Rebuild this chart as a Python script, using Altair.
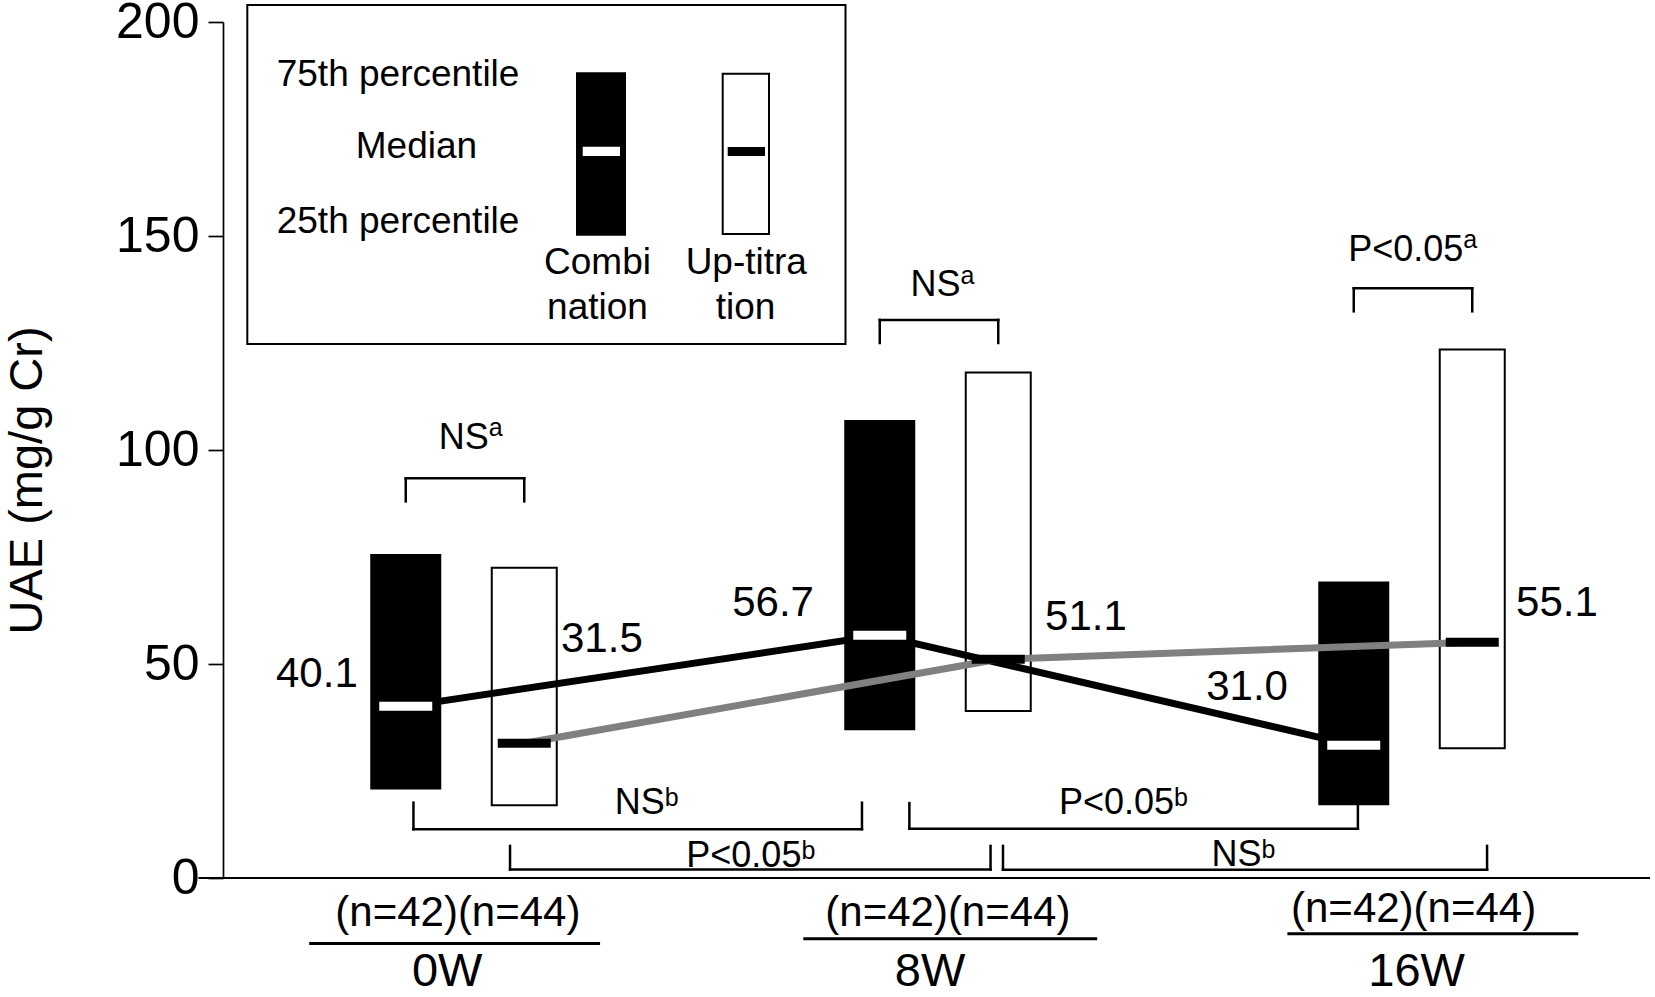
import altair as alt
import pandas as pd

# ---------------- data ----------------
week_num = [0, 8, 16]
week_names = ["0W", "8W", "16W"]
group_names = ["Combination", "Up-titration"]

comb_q1 = [20.7, 34.5, 17.0]
comb_median = [40.1, 56.7, 31.0]
comb_q3 = [75.7, 107.0, 69.3]

up_q1 = [17.0, 39.0, 30.3]
up_median = [31.5, 51.1, 55.1]
up_q3 = [72.5, 118.1, 123.5]

n_text = ["(n=42)(n=44)", "(n=42)(n=44)", "(n=42)(n=44)"]

# annotation placement (data units: weeks on x, UAE on y)
comb_label_x = [-2.50, 5.20, 13.20]
comb_label_y = [48.1, 64.8, 45.1]
up_label_x = [2.31, 10.48, 18.43]
up_label_y = [56.2, 61.5, 64.8]

within_text = ["NS", "NS", "P<0.05"]
within_sup = "a"
within_bar_y = [93.4, 130.4, 137.8]
within_label_x = [0.10, 8.06, 16.0]
within_label_y = [103.3, 138.9, 147.2]

between_text = ["NS", "P<0.05", "P<0.05", "NS"]
between_sup = "b"
between_from = [-0.87, 0.76, 7.50, 9.08]
between_to = [6.70, 8.87, 15.07, 17.25]
between_bar_y = [11.4, 2.0, 11.5, 1.95]
between_leg_y = [17.6, 7.5, 17.5, 7.5]
between_label_x = [3.07, 4.83, 11.12, 13.14]
between_label_y = [18.0, 5.7, 18.0, 5.8]

n_label_x = [-0.12, 8.15, 16.01]
n_label_y = [-7.8, -7.8, -6.7]
underline_from = [-2.63, 5.71, 13.88]
underline_to = [2.28, 10.67, 18.79]
underline_y = [-15.3, -14.2, -13.0]
week_label_x = [-0.30, 7.85, 16.06]
week_label_y = [-21.6, -21.6, -21.6]

# ---------------- layout constants ----------------
FONT = "Liberation Sans, Arial, DejaVu Sans"
PLOT_W, PLOT_H = 1432, 856
X_DOMAIN = [-4, 20]
PX_PER_WEEK = PLOT_W / (X_DOMAIN[1] - X_DOMAIN[0])
SIG_FS, SUP_FS = 36, 25
ARIAL_W = {"N": .722, "S": .667, "P": .667, "<": .584, "0": .556, ".": .278,
           "5": .556, "a": .556, "b": .556}


def text_w(s, fs):
    return sum(ARIAL_W[c] for c in s) * fs


shift = {"Combination": -1.0, "Up-titration": 1.0}

# ---------------- tables ----------------
rows = []
for g, q1s, meds, q3s, lx, ly in [
    ("Combination", comb_q1, comb_median, comb_q3, comb_label_x, comb_label_y),
    ("Up-titration", up_q1, up_median, up_q3, up_label_x, up_label_y),
]:
    for i in range(3):
        rows.append(dict(week=week_names[i], group=g, xpos=week_num[i] + shift[g],
                         q1=q1s[i], median=meds[i], q3=q3s[i],
                         label=f"{meds[i]:.1f}", label_x=lx[i], label_y=ly[i]))
df = pd.DataFrame(rows)

seg_rows = []
leg = 5.4
for i in range(3):
    x0 = week_num[i] + shift["Combination"]
    x1 = week_num[i] + shift["Up-titration"]
    yb = within_bar_y[i]
    seg_rows += [dict(x=x0, x2=x1, y=yb, y2=yb),
                 dict(x=x0, x2=x0, y=yb, y2=yb - leg),
                 dict(x=x1, x2=x1, y=yb, y2=yb - leg)]
for i in range(4):
    a, b, yb, yl = between_from[i], between_to[i], between_bar_y[i], between_leg_y[i]
    seg_rows += [dict(x=a, x2=b, y=yb, y2=yb),
                 dict(x=a, x2=a, y=yb, y2=yl),
                 dict(x=b, x2=b, y=yb, y2=yl)]
segs = pd.DataFrame(seg_rows)


def sig_table(texts, sup, xs_, ys_):
    out = []
    for t, x, y in zip(texts, xs_, ys_):
        join = x + (text_w(t, SIG_FS) - text_w(sup, SUP_FS)) / 2 / PX_PER_WEEK
        out.append(dict(t=t, s=sup, x=join, y=y))
    return pd.DataFrame(out)


sig_a = sig_table(within_text, within_sup, within_label_x, within_label_y)
sig_b = sig_table(between_text, between_sup, between_label_x, between_label_y)

n_df = pd.DataFrame(dict(t=n_text, x=n_label_x, y=n_label_y))
wk_df = pd.DataFrame(dict(t=week_names, x=week_label_x, y=week_label_y))
ul_df = pd.DataFrame(dict(x=underline_from, x2=underline_to, y=underline_y))
axis_df = pd.DataFrame(dict(x=[-4.5], x2=[20.0], y=[0.0]))

# ---------------- scales / helpers ----------------
xs = alt.Scale(domain=X_DOMAIN, nice=False, zero=False)
ys = alt.Scale(domain=[0, 200], nice=False, zero=False)
yaxis = alt.Axis(values=[0, 50, 100, 150, 200], title="UAE (mg/g Cr)", grid=False,
                 labelFont=FONT, labelFontSize=50, labelColor="black", labelPadding=9,
                 tickSize=15, tickWidth=1.7, tickColor="black",
                 domainColor="black", domainWidth=1.7,
                 titleFont=FONT, titleFontSize=47, titleFontWeight="normal", titleColor="black",
                 titleAngle=270, titleX=-196, titleY=458, titleAlign="center",
                 titleBaseline="middle")


def X(f):
    return alt.X(f, type="quantitative", scale=xs, axis=None)


def Y(f):
    return alt.Y(f, type="quantitative", scale=ys, axis=yaxis)


comb = alt.datum.group == "Combination"
upt = alt.datum.group == "Up-titration"

bars_c = alt.Chart(df).transform_filter(comb).mark_bar(size=71, color="black").encode(
    x=X("xpos"), y=Y("q3"), y2="q1")
bars_u = alt.Chart(df).transform_filter(upt).mark_bar(
    size=65, fill="white", stroke="black", strokeWidth=2).encode(
    x=X("xpos"), y=Y("q3"), y2="q1")

lines = alt.Chart(df).mark_line(strokeWidth=7).encode(
    x=X("xpos"), y=Y("median"),
    color=alt.Color("group:N", scale=alt.Scale(domain=group_names, range=["black", "#808080"]),
                    legend=None))

ticks_c = alt.Chart(df).transform_filter(comb).mark_tick(
    orient="horizontal", size=53, thickness=9, color="white", opacity=1).encode(
    x=X("xpos"), y=Y("median"))
ticks_u = alt.Chart(df).transform_filter(upt).mark_tick(
    orient="horizontal", size=53, thickness=9, color="black", opacity=1).encode(
    x=X("xpos"), y=Y("median"))

val_text = alt.Chart(df).mark_text(font=FONT, fontSize=42, color="black", baseline="middle",
                                   dy=2).encode(
    x=X("label_x"), y=Y("label_y"), text="label:N")

brackets = alt.Chart(segs).mark_rule(color="black", strokeWidth=2.5, strokeCap="square").encode(
    x=X("x"), x2="x2", y=Y("y"), y2="y2")


def sig_layers(tbl, sup_dy):
    main = alt.Chart(tbl).mark_text(font=FONT, fontSize=SIG_FS, color="black", align="right",
                                    baseline="alphabetic", dy=round(0.358 * SIG_FS, 1)).encode(
        x=X("x"), y=Y("y"), text="t:N")
    sup = alt.Chart(tbl).mark_text(font=FONT, fontSize=SUP_FS, color="black", align="left",
                                   baseline="alphabetic", dy=sup_dy).encode(
        x=X("x"), y=Y("y"), text="s:N")
    return [main, sup]


sig_text_layers = sig_layers(sig_a, 0.5) + sig_layers(sig_b, 5)

x_axis_line = alt.Chart(axis_df).mark_rule(color="black", strokeWidth=2).encode(
    x=X("x"), x2="x2", y=Y("y"))

n_lab = alt.Chart(n_df).mark_text(font=FONT, fontSize=42, color="black", baseline="middle",
                                  dy=2).encode(x=X("x"), y=Y("y"), text="t:N")
wk_lab = alt.Chart(wk_df).mark_text(font=FONT, fontSize=47, color="black", baseline="middle",
                                    dy=2).encode(x=X("x"), y=Y("y"), text="t:N")
underl = alt.Chart(ul_df).mark_rule(color="black", strokeWidth=3).encode(
    x=X("x"), x2="x2", y=Y("y"))

# ---------------- legend box (pixel positions inside the plot) ----------------
one = alt.Data(values=[{"k": 1}])


def prect(x0, x1, y0, y1, **kw):
    return alt.Chart(one).mark_rect(**kw).encode(
        x=alt.value(x0), x2=alt.value(x1), y=alt.value(y0), y2=alt.value(y1))


def ptext(s, x, y, align="center"):
    return alt.Chart(one).mark_text(text=s, font=FONT, fontSize=37, color="black",
                                    align=align, baseline="middle", dy=2).encode(
        x=alt.value(x), y=alt.value(y))


legend_layers = [
    prect(24.3, 622.5, -17, 322, fill="white", stroke="black", strokeWidth=2),
    prect(353, 403, 50.3, 213.7, fill="black"),
    prect(359.7, 397, 124.7, 134, fill="white"),
    prect(499.7, 546, 51.7, 212, fill="white", stroke="black", strokeWidth=2),
    prect(504.7, 542, 125, 134, fill="black"),
    ptext("75th percentile", 53.7, 50.5, align="left"),
    ptext("Median", 193.4, 123),
    ptext("25th percentile", 53.7, 198, align="left"),
    ptext("Combi", 374.5, 238.5),
    ptext("nation", 374.5, 284),
    ptext("Up-titra", 523.3, 238.5),
    ptext("tion", 522.5, 284),
]

chart = alt.layer(
    bars_c, bars_u, lines, ticks_c, ticks_u, val_text, brackets, *sig_text_layers,
    x_axis_line, n_lab, underl, wk_lab, *legend_layers
).properties(
    width=PLOT_W, height=PLOT_H,
    padding={"left": 223, "top": 22, "right": 0, "bottom": 119},
    autosize=alt.AutoSizeParams(type="none"),
).configure_view(strokeWidth=0)

chart.save("out.html", embed_options={"renderer": "svg", "actions": False})
